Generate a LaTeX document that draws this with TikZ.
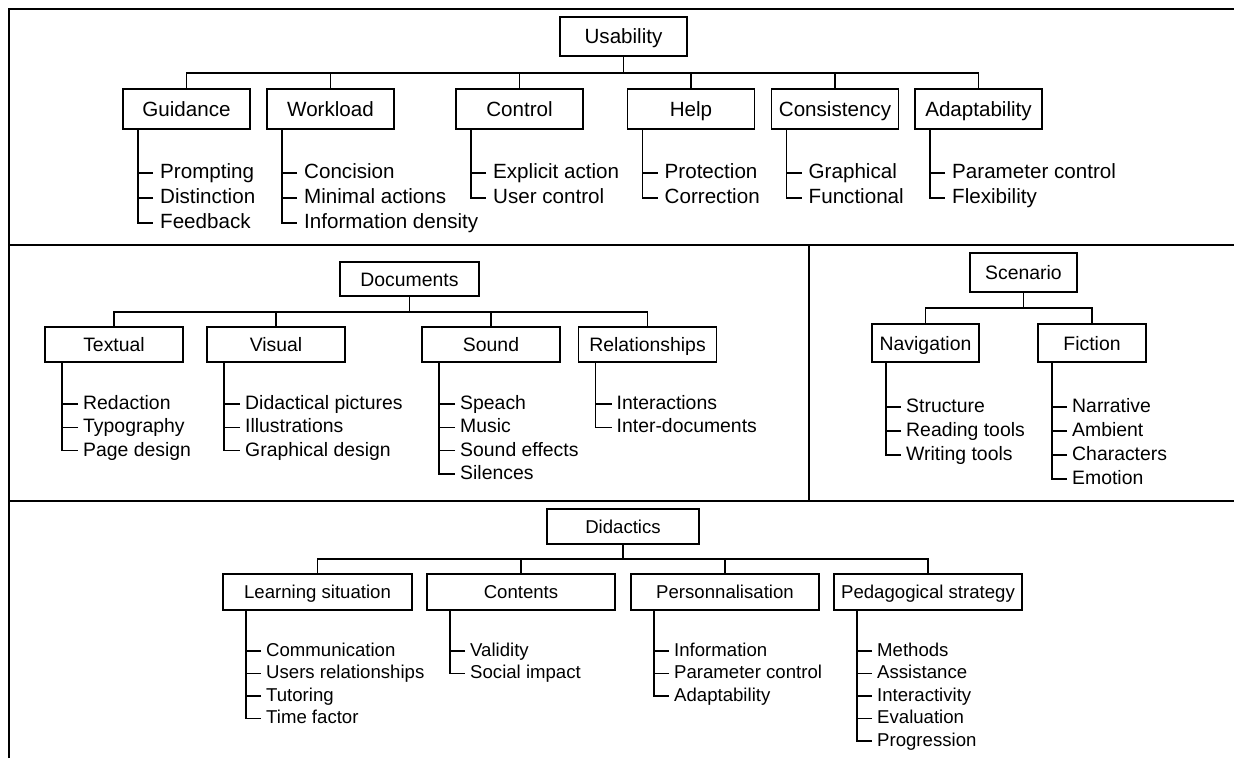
\documentclass[tikz,border=0pt]{standalone}
\usepackage{fontspec}
\setmainfont{Liberation Sans}

\begin{document}
\begin{tikzpicture}[x=1pt, y=-1pt,
    frame/.style={line width=2.6pt},
    link/.style={line width=1.4pt},
    box/.style 2 args={draw, line width=1.4pt, inner sep=0pt, outer sep=0pt,
        text depth=0pt, minimum width=#1, minimum height=#2},
    leaf/.style={anchor=west, inner sep=0pt}]
    \useasboundingbox (0,0) rectangle (1234,758);

    % panels
    \draw[frame] (9,758) -- (9,9) -- (1234,9);
    \draw[frame] (9,245) -- (1234,245);
    \draw[frame] (9,501) -- (1234,501);
    \draw[frame] (809,245) -- (809,501);

    % usability
    \begin{scope}[font=\fontsize{20.6}{24}\selectfont,
        box/.append style={text height=14.8pt},
        leaf/.append style={text height=14.8pt, text depth=3.1pt}]
        \node[box={127}{39}] (usab) at (623.5,36.5) {Usability};
        \node[box={127}{40}] (guid) at (186.5,109) {Guidance};
        \node[box={127}{40}] (work) at (330.5,109) {Workload};
        \node[box={127}{40}] (ctrl) at (519.5,109) {Control};
        \node[box={127}{40}] (help) at (691,109) {Help};
        \node[box={127}{40}] (cons) at (835,109) {Consistency};
        \node[box={127}{40}] (adap) at (978.5,109) {Adaptability};

        \node[leaf] (prom) at (160,173) {Prompting};
        \node[leaf] (dist) at (160,198) {Distinction};
        \node[leaf] (feed) at (160,223) {Feedback};
        \node[leaf] (conc) at (304,173) {Concision};
        \node[leaf] (mini) at (304,198) {Minimal actions};
        \node[leaf] (dens) at (304,223) {Information density};
        \node[leaf] (expl) at (493,173) {Explicit action};
        \node[leaf] (user) at (493,198) {User control};
        \node[leaf] (prot) at (664.5,173) {Protection};
        \node[leaf] (corr) at (664.5,198) {Correction};
        \node[leaf] (grap) at (808.5,173) {Graphical};
        \node[leaf] (func) at (808.5,198) {Functional};
        \node[leaf] (para) at (952,173) {Parameter control};
        \node[leaf] (flex) at (952,198) {Flexibility};

        \foreach \c in {guid,work,ctrl,help,cons,adap}
            \draw[link] (usab.south) -- ++(0,17) -| (\c.north);
        \foreach \c/\l in {guid/feed,work/dens,ctrl/user,help/corr,cons/func,adap/flex}
            \draw[link] ([xshift=15pt]\c.south west) |- ([xshift=-7pt]\l.west);
        \foreach \l in {prom,dist,conc,mini,expl,prot,grap,para}
            \draw[link] ([xshift=-7pt]\l.west) -- ++(-15,0);
    \end{scope}

    % documents and scenario
    \begin{scope}[font=\fontsize{19.4}{23}\selectfont,
        box/.append style={text height=14pt},
        leaf/.append style={text height=14pt, text depth=2.9pt}]
        \node[box={139}{34}] (docs) at (409.5,279) {Documents};
        \node[box={138}{35}] (txtl) at (114,344.5) {Textual};
        \node[box={138}{35}] (visu) at (276,344.5) {Visual};
        \node[box={138}{35}] (soun) at (491,344.5) {Sound};
        \node[box={138}{35}] (rela) at (647.5,344.5) {Relationships};

        \node[leaf] (reda) at (83,404) {Redaction};
        \node[leaf] (typo) at (83,427.3) {Typography};
        \node[leaf] (page) at (83,450.6) {Page design};
        \node[leaf] (dpic) at (245,404) {Didactical pictures};
        \node[leaf] (illu) at (245,427.3) {Illustrations};
        \node[leaf] (gdes) at (245,450.6) {Graphical design};
        \node[leaf] (spea) at (460,404) {Speach};
        \node[leaf] (musi) at (460,427.3) {Music};
        \node[leaf] (seff) at (460,450.6) {Sound effects};
        \node[leaf] (sile) at (460,474) {Silences};
        \node[leaf] (inte) at (616.5,404) {Interactions};
        \node[leaf] (indo) at (616.5,427.3) {Inter-documents};

        \foreach \c in {txtl,visu,soun,rela}
            \draw[link] (docs.south) -- ++(0,16) -| (\c.north);
        \foreach \c/\l in {txtl/page,visu/gdes,soun/sile,rela/indo}
            \draw[link] ([xshift=17pt]\c.south west) |- ([xshift=-5pt]\l.west);
        \foreach \l in {reda,typo,dpic,illu,spea,musi,seff,inte}
            \draw[link] ([xshift=-5pt]\l.west) -- ++(-16,0);

        \node[box={107}{39}] (scen) at (1023.5,272.5) {Scenario};
        \node[box={107}{38}] (navi) at (925.5,343) {Navigation};
        \node[box={108}{38}] (fict) at (1092,343) {Fiction};

        \node[leaf] (stru) at (906,407) {Structure};
        \node[leaf] (read) at (906,431) {Reading tools};
        \node[leaf] (writ) at (906,455) {Writing tools};
        \node[leaf] (narr) at (1072,407) {Narrative};
        \node[leaf] (ambi) at (1072,431) {Ambient};
        \node[leaf] (char) at (1072,455) {Characters};
        \node[leaf] (emot) at (1072,479) {Emotion};

        \foreach \c in {navi,fict}
            \draw[link] (scen.south) -- ++(0,16) -| (\c.north);
        \foreach \c/\l in {navi/writ,fict/emot}
            \draw[link] ([xshift=14pt]\c.south west) |- ([xshift=-5pt]\l.west);
        \foreach \l in {stru,read,narr,ambi,char}
            \draw[link] ([xshift=-5pt]\l.west) -- ++(-15,0);
    \end{scope}

    % didactics
    \begin{scope}[font=\fontsize{18.6}{22}\selectfont,
        box/.append style={text height=13.4pt},
        leaf/.append style={text height=13.4pt, text depth=2.8pt}]
        \node[box={152}{35}] (didac) at (623,526.5) {Didactics};
        \node[box={189}{36}] (lear) at (317.5,592) {Learning situation};
        \node[box={188}{36}] (cont) at (521,592) {Contents};
        \node[box={188}{36}] (pers) at (725,592) {Personnalisation};
        \node[box={188}{36}] (peda) at (928,592) {Pedagogical strategy};

        \node[leaf] (comm) at (266,651) {Communication};
        \node[leaf] (urel) at (266,673.5) {Users relationships};
        \node[leaf] (tuto) at (266,696) {Tutoring};
        \node[leaf] (time) at (266,718.5) {Time factor};
        \node[leaf] (vali) at (470,651) {Validity};
        \node[leaf] (soci) at (470,673.5) {Social impact};
        \node[leaf] (info) at (674,651) {Information};
        \node[leaf] (pctl) at (674,673.5) {Parameter control};
        \node[leaf] (adpt) at (674,696) {Adaptability};
        \node[leaf] (meth) at (877,651) {Methods};
        \node[leaf] (assi) at (877,673.5) {Assistance};
        \node[leaf] (intv) at (877,696) {Interactivity};
        \node[leaf] (eval) at (877,718.5) {Evaluation};
        \node[leaf] (prog) at (877,741) {Progression};

        \foreach \c in {lear,cont,pers,peda}
            \draw[link] (didac.south) -- ++(0,15) -| (\c.north);
        \foreach \c/\l in {lear/time,cont/soci,pers/adpt,peda/prog}
            \draw[link] ([xshift=23pt]\c.south west) |- ([xshift=-5pt]\l.west);
        \foreach \l in {comm,urel,tuto,vali,info,pctl,meth,assi,intv,eval}
            \draw[link] ([xshift=-5pt]\l.west) -- ++(-15,0);
    \end{scope}
\end{tikzpicture}
\end{document}
